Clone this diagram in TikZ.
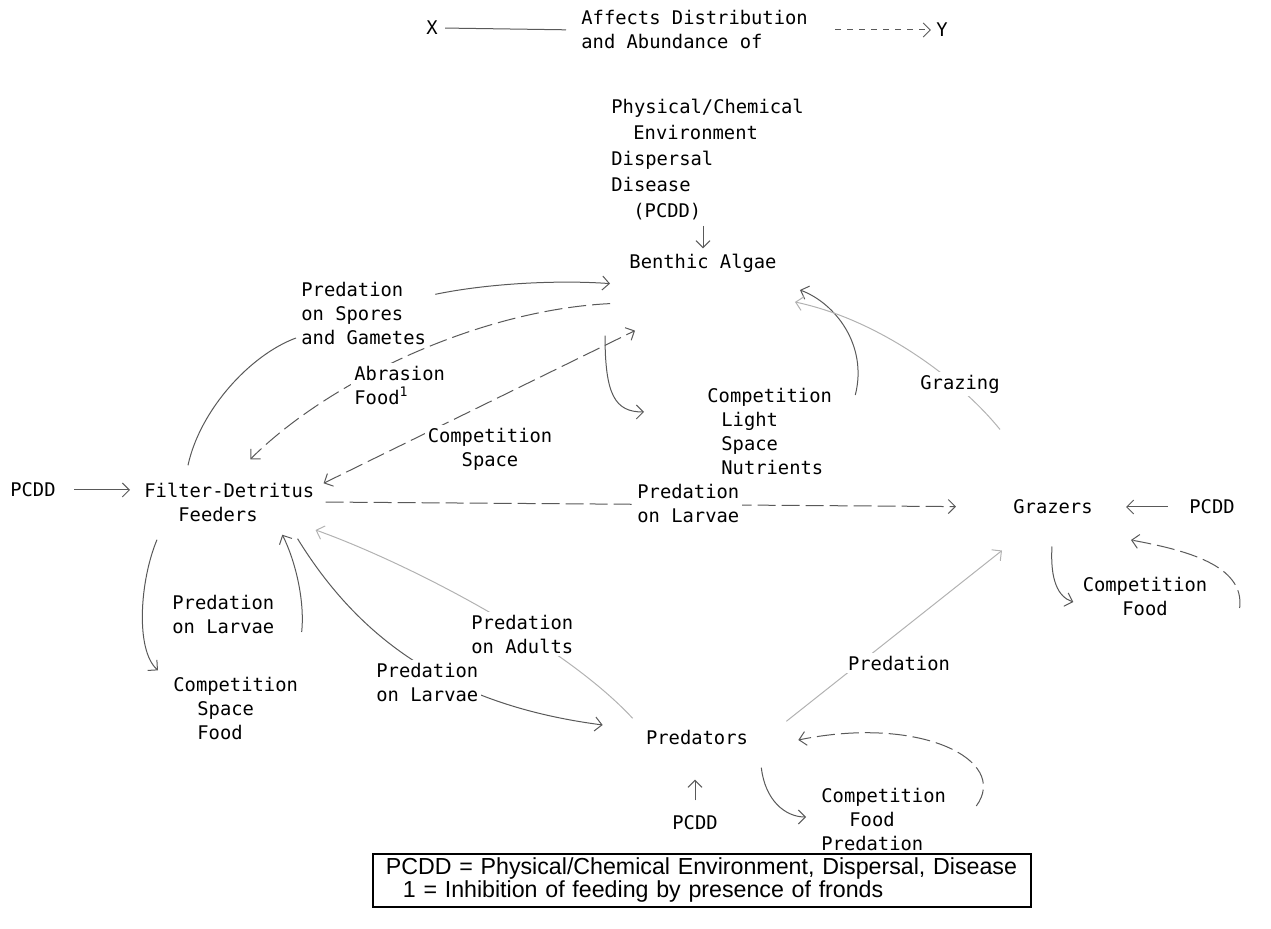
\documentclass[tikz,border=0pt]{standalone}
\usepackage{fontspec}
\newfontfamily\dmono{DejaVu Sans Mono}
\newfontfamily\lsans{Liberation Sans}
\usetikzlibrary{arrows.meta,calc}
\pgfdeclarelayer{bg}
\pgfsetlayers{bg,main}
\begin{document}
\begin{tikzpicture}[x=0.5pt,y=-0.5pt,
  txt/.style={font=\dmono\fontsize{9.4}{12}\selectfont, inner sep=1.5pt, align=left},
  lbl/.style={txt, fill=white},
  conn/.style={draw=black!65, line width=0.5pt},
  faint/.style={draw=black!30, line width=0.5pt},
  longdash/.style={dash pattern=on 9pt off 3pt},
  arr/.style={-{Straight Barb[length=3.5pt,width=7pt]}},
  darr/.style={{Straight Barb[length=3.5pt,width=7pt]}-{Straight Barb[length=3.5pt,width=7pt]}}]
\useasboundingbox (0,0) rectangle (1271,929);

% key
\node[txt] (X) at (432,28) {X};
\node[txt, anchor=west] (aff) at (578,30) {Affects Distribution\\and Abundance of};
\node[txt] (Y) at (942,30) {Y};

% nodes
\node[txt, anchor=west, font=\dmono\fontsize{9.4}{13}\selectfont] (phys) at (608,160)
  {Physical/Chemical\\\hspace*{11pt}Environment\\Dispersal\\Disease\\\hspace*{11pt}(PCDD)};
\node[txt] (alg) at (703,263) {Benthic Algae};
\node[lbl, anchor=west] (spore) at (298,313) {Predation\\on Spores\\and Gametes};
\node[lbl, anchor=west] (abr) at (351,385) {Abrasion\\Food\textsuperscript{1}};
\node[lbl, align=center] (cs1) at (490,449) {Competition\\Space};
\node[lbl, anchor=west] (cl) at (704,431) {Competition\\\hspace*{7pt}Light\\\hspace*{7pt}Space\\\hspace*{7pt}Nutrients};
\node[lbl] (grz) at (960,384) {Grazing};
\node[txt, anchor=west] (fdf) at (141,502) {Filter-Detritus\\\hspace*{17pt}Feeders};
\node[txt] (pcddL) at (33,490) {PCDD};
\node[lbl, anchor=west] (pl1) at (634,503) {Predation\\on Larvae};
\node[txt] (gr) at (1053,507) {Grazers};
\node[txt] (pcddR) at (1212,507) {PCDD};
\node[lbl, align=center] (cf) at (1145,596) {Competition\\Food};
\node[lbl, anchor=west] (pl2) at (169,614) {Predation\\on Larvae};
\node[lbl, anchor=west] (csf) at (170,708) {Competition\\\hspace*{12pt}Space\\\hspace*{12pt}Food};
\node[lbl, anchor=west] (pad) at (468,634) {Predation\\on Adults};
\node[lbl, anchor=west] (pl3) at (373,682) {Predation\\on Larvae};
\node[lbl] (pdn) at (899,663) {Predation};
\node[txt] (pred) at (697,737) {Predators};
\node[txt] (pcddB) at (695,823) {PCDD};
\node[lbl, anchor=west] (cfp) at (818,819) {Competition\\\hspace*{14pt}Food\\Predation};

% legend box
\node[draw, line width=0.9pt, anchor=north west, minimum width=329pt, minimum height=26.5pt,
  inner xsep=6.5pt, inner ysep=0pt, text width=316pt, align=left,
  font=\lsans\fontsize{11.6}{11.5}\selectfont] (leg) at (372,853)
  {PCDD = Physical/Chemical Environment, Dispersal, Disease\\\hspace*{8.5pt}1 = Inhibition of feeding by presence of fronds};

\begin{pgfonlayer}{bg}
% key arrows
\draw[conn, shorten <=2pt, shorten >=6pt] (X.east) -- (aff.west);
\draw[conn, dashed, arr, shorten <=12pt, shorten >=1pt] (aff.east) -- (Y.west);

% PCDD inputs
\draw[conn, arr, shorten <=1pt, shorten >=1pt] (phys.south -| alg.north) -- (alg.north);
\draw[conn, arr, shorten <=7.5pt, shorten >=5.5pt] (pcddL.east) -- (pcddL.east -| fdf.west);
\draw[conn, arr, shorten <=9pt, shorten >=15pt] (pcddR.west) -- (pcddR.west -| gr.east);
\draw[conn, arr, shorten <=6pt, shorten >=16pt] (pcddB.north) -- (pcddB.north |- pred.south);

% filter feeders -> predation on spores -> algae
\draw[conn] ($(fdf.north west)+(47,-14)$) .. controls (200,410) and (250,355) .. ($(spore.west)+(-2,25)$);
\draw[conn, arr] ($(spore.north east)+(6,16)$) .. controls (490,283) and (560,280) .. ($(alg.south west)+(-16,8)$);

% algae -> filter feeders (abrasion, food)
\draw[conn, longdash, arr] ($(alg.south west)+(-16,28)$) .. controls (480,310) and (330,380) .. ($(fdf.north)+(21,-20)$);

% competition space between feeders and algae
\draw[conn, longdash, darr] ($(fdf.north east)+(6,4)$) -- ($(alg.south west)+(9,55)$);

% algae competition loop
\draw[conn, arr] ($(alg.south west)+(-21,60)$) .. controls (605,395) and (615,412) .. ($(cl.west)+(-60,-19)$);
\draw[conn, arr] ($(cl.east)+(20,-36)$) .. controls (868,345) and (835,303) .. ($(alg.east)+(20,27)$);

% grazers -> algae (grazing)
\draw[faint, arr] ($(gr.north)+(-53,-67)$) .. controls (960,380) and (880,320) .. ($(alg.east)+(15,39)$);

% feeders -> grazers (predation on larvae)
\draw[conn, longdash, arr, shorten <=4pt, shorten >=27pt] (fdf.east) -- (gr.west);

% grazers competition loop
\draw[conn, arr] ($(gr.south)+(-1,29)$) .. controls (1050,580) and (1058,597) .. ($(cf.west)+(-6,6)$);
\draw[conn, longdash, arr] ($(cf.east)+(29,12)$) .. controls (1245,565) and (1185,550) .. ($(gr.east)+(35,33)$);

% predators -> grazers (predation)
\draw[faint, arr] ($(pred.north east)+(35,-5)$) -- ($(gr.south west)+(-8,33)$);

% predators competition loop
\draw[conn, arr] ($(pred.south east)+(10,20)$) .. controls (765,800) and (785,817) .. ($(cfp.west)+(-12,-2)$);
\draw[conn, longdash, arr] ($(cfp.east)+(27,-13)$) .. controls (1010,760) and (920,715) .. ($(pred.east)+(47,3)$);

% feeders competition loop
\draw[conn, arr] ($(fdf.south west)+(16,15)$) .. controls (140,580) and (135,650) .. ($(csf.north west)+(-12,-3)$);
\draw[conn, arr] ($(pl2.east)+(24,18)$) .. controls (305,600) and (295,560) .. ($(fdf.south)+(53,10)$);

% feeders -> predators (predation on larvae)
\draw[conn, arr] ($(fdf.south east)+(-20,14)$) .. controls (360,640) and (450,705) .. ($(pred.west)+(-40,-12)$);

% predators -> feeders (predation on adults)
\draw[faint, arr] ($(pred.north west)+(-10,-8)$) .. controls (560,640) and (400,560) .. ($(fdf.east)+(-2,28)$);
\end{pgfonlayer}
\end{tikzpicture}
\end{document}
